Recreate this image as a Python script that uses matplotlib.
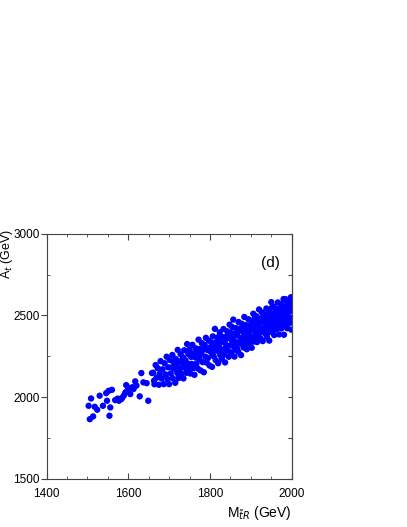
import matplotlib
matplotlib.use('Agg')
import matplotlib.pyplot as plt
from matplotlib.ticker import MultipleLocator

# sparse low-mass points
m_low = [1503, 1509, 1506, 1514, 1518, 1524, 1530, 1546, 1538, 1548, 1554, 1556,
         1552, 1560, 1568, 1577, 1583, 1589, 1593, 1595, 1602, 1605, 1613, 1617,
         1628, 1632, 1637, 1645, 1649, 1658, 1663, 1620, 1598, 1574, 1585, 1610]
a_low = [1946, 1991, 1864, 1881, 1940, 1922, 2008, 2024, 1946, 1977, 1885, 1936,
         2038, 2044, 1981, 1977, 1987, 2008, 2028, 2073, 2055, 2018, 2049, 2096,
         2004, 2147, 2090, 2085, 1977, 2147, 2100, 2070, 2040, 1990, 1995, 2060]

# band 1660-1760
m_mid = [1661, 1664, 1667, 1669, 1672, 1675, 1677, 1679, 1682, 1684,
         1687, 1689, 1691, 1694, 1696, 1698, 1700, 1702, 1704, 1706,
         1708, 1709, 1711, 1713, 1715, 1716, 1718, 1720, 1721, 1723,
         1725, 1727, 1728, 1730, 1732, 1734, 1735, 1737, 1739, 1740,
         1742, 1744, 1745, 1747, 1749, 1750, 1752, 1754, 1755, 1757,
         1759, 1760]
a_mid = [2149, 2078, 2196, 2118, 2177, 2075, 2142, 2220, 2113, 2170,
         2079, 2207, 2139, 2247, 2110, 2182, 2079, 2227, 2144, 2181,
         2258, 2115, 2212, 2174, 2087, 2233, 2200, 2147, 2289, 2116,
         2218, 2175, 2262, 2144, 2206, 2243, 2114, 2287, 2179, 2225,
         2148, 2325, 2206, 2263, 2176, 2292, 2144, 2246, 2203, 2320,
         2177, 2268]

# band 1760-1900
m_high = [1762, 1764, 1765, 1767, 1769, 1770, 1772, 1774, 1775, 1777,
          1779, 1780, 1782, 1784, 1785, 1787, 1789, 1790, 1792, 1794,
          1795, 1797, 1799, 1800, 1802, 1804, 1805, 1807, 1809, 1810,
          1812, 1814, 1815, 1817, 1819, 1820, 1822, 1824, 1825, 1827,
          1829, 1830, 1831, 1833, 1834, 1836, 1837, 1839, 1840, 1842,
          1843, 1845, 1846, 1848, 1849, 1851, 1852, 1854, 1855, 1857,
          1858, 1860, 1861, 1863, 1864, 1866, 1867, 1869, 1870, 1872,
          1873, 1875, 1876, 1878, 1879, 1881, 1882, 1884, 1885, 1887,
          1888, 1890, 1891, 1893, 1894, 1896, 1897, 1899, 1900]
a_high = [2136, 2243, 2299, 2206, 2269, 2175, 2352, 2234, 2295, 2163,
          2265, 2331, 2214, 2291, 2152, 2319, 2247, 2363, 2210, 2288,
          2239, 2346, 2193, 2304, 2277, 2334, 2185, 2372, 2250, 2301,
          2418, 2226, 2332, 2284, 2366, 2207, 2310, 2397, 2258, 2335,
          2233, 2369, 2290, 2417, 2259, 2336, 2212, 2369, 2315, 2403,
          2284, 2361, 2247, 2444, 2316, 2393, 2274, 2346, 2428, 2475,
          2311, 2248, 2390, 2337, 2423, 2300, 2377, 2279, 2460, 2332,
          2414, 2361, 2257, 2449, 2325, 2398, 2304, 2491, 2382, 2354,
          2441, 2293, 2419, 2346, 2477, 2380, 2326, 2438, 2409]

# band 1900-2000
m_top = [1902, 1903, 1905, 1906, 1908, 1909, 1911, 1912, 1914, 1915,
         1917, 1918, 1920, 1921, 1923, 1924, 1926, 1927, 1929, 1930,
         1932, 1933, 1935, 1936, 1938, 1939, 1941, 1942, 1944, 1945,
         1947, 1948, 1950, 1951, 1953, 1954, 1956, 1957, 1959, 1960,
         1962, 1963, 1965, 1966, 1968, 1969, 1971, 1972, 1974, 1975,
         1977, 1978, 1980, 1981, 1983, 1984, 1986, 1987, 1989, 1990,
         1992, 1993, 1995, 1996, 1998, 1999, 1997, 1994]
a_top = [2302, 2468, 2370, 2511, 2423, 2350, 2457, 2393, 2495, 2337,
         2444, 2375, 2537, 2423, 2361, 2482, 2399, 2520, 2343, 2464,
         2426, 2507, 2390, 2451, 2543, 2369, 2486, 2423, 2530, 2346,
         2473, 2414, 2582, 2513, 2400, 2466, 2554, 2380, 2502, 2448,
         2541, 2417, 2489, 2580, 2442, 2384, 2531, 2482, 2569, 2421,
         2513, 2464, 2601, 2382, 2555, 2451, 2503, 2589, 2422, 2538,
         2490, 2581, 2454, 2525, 2612, 2413, 2486, 2558]

# extra points filling the dense part
m_fill = [1806, 1818, 1826, 1838, 1847, 1856, 1862, 1868, 1874, 1877,
          1883, 1889, 1892, 1898, 1901, 1904, 1907, 1910, 1913, 1916,
          1919, 1922, 1925, 1928, 1931, 1934, 1937, 1940, 1943, 1946,
          1949, 1952, 1955, 1958, 1961, 1964, 1967, 1970, 1973, 1976,
          1979, 1982, 1985, 1988, 1991, 1994, 1997, 2000, 1999, 1985]
a_fill = [2262, 2345, 2282, 2300, 2380, 2365, 2290, 2400, 2330, 2420,
          2355, 2405, 2330, 2360, 2450, 2425, 2340, 2485, 2430, 2470,
          2400, 2455, 2350, 2470, 2410, 2490, 2420, 2460, 2395, 2500,
          2440, 2550, 2430, 2480, 2520, 2450, 2510, 2470, 2545, 2500,
          2440, 2520, 2470, 2550, 2460, 2590, 2530, 2470, 2560, 2600]

plt.rcParams['font.family'] = ['Liberation Sans', 'DejaVu Sans']
fig = plt.figure(figsize=(4.07, 5.27), dpi=100)
ax = fig.add_axes([0.1143, 0.092, 0.6025, 0.464])

xs = m_low + m_mid + m_high + m_top + m_fill
ys = a_low + a_mid + a_high + a_top + a_fill
ax.scatter(xs, ys, s=21, c='#0000ff', edgecolors='none')

ax.set_xlim(1400, 2000)
ax.set_ylim(1500, 3000)
axcol = '#444444'
ax.xaxis.set_major_locator(MultipleLocator(200))
ax.xaxis.set_minor_locator(MultipleLocator(50))
ax.yaxis.set_major_locator(MultipleLocator(500))
ax.yaxis.set_minor_locator(MultipleLocator(250))
ax.tick_params(axis='x', which='both', direction='in', top=True, bottom=True,
               color=axcol, labelsize=8.5, pad=7)
ax.tick_params(axis='x', which='major', length=4)
ax.tick_params(axis='x', which='minor', length=2)
ax.tick_params(axis='y', which='major', direction='out', left=True, right=False,
               length=4, color=axcol, labelsize=8.5, pad=1)
ax.tick_params(axis='y', which='minor', direction='in', left=True, right=False,
               length=2, color=axcol)
for sp in ax.spines.values():
    sp.set_color(axcol)

# right-hand ticks, all pointing inward
sec = ax.secondary_yaxis('right')
sec.yaxis.set_major_locator(MultipleLocator(250))
sec.tick_params(direction='in', length=3, color=axcol, labelright=False)
sec.spines['right'].set_color(axcol)

ax.set_xlabel(r'M$_{\tilde{t}R}$ (GeV)', loc='right', fontsize=10, labelpad=3)
ax.set_ylabel(r'A$_{t}$ (GeV)', loc='top', fontsize=9)
ax.yaxis.set_label_coords(-0.128, 1.02)
ax.text(0.915, 0.88, '(d)', transform=ax.transAxes, ha='center', va='center', fontsize=11)

plt.savefig('out.png')
